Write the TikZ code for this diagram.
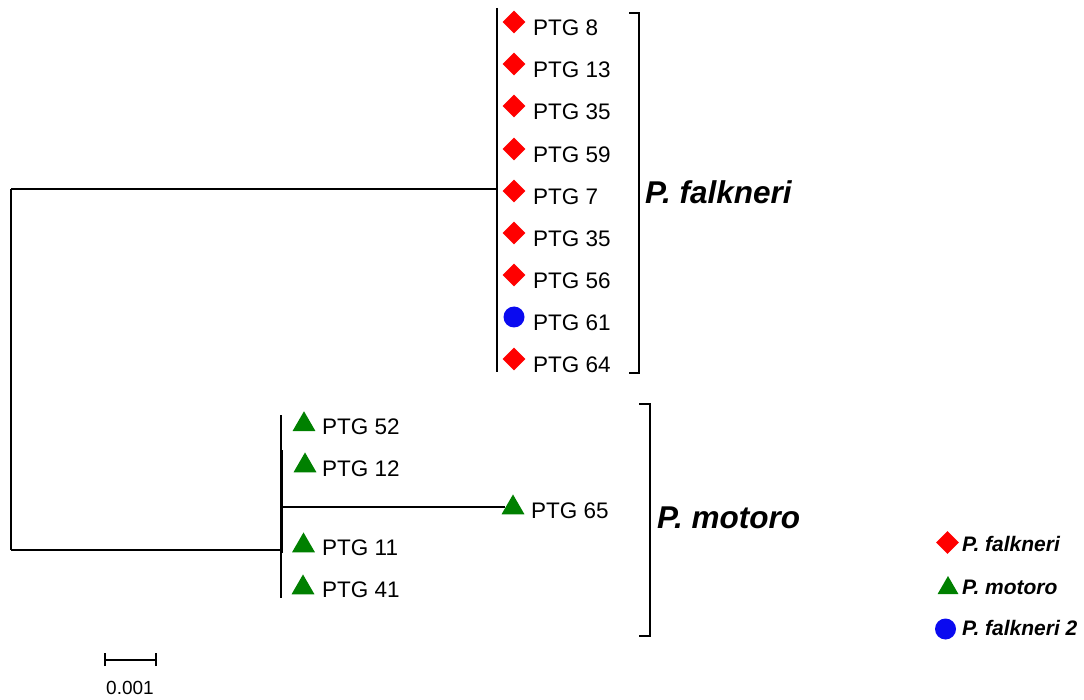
\documentclass[tikz,border=0pt]{standalone}
\usepackage{fontspec}
\setmainfont{Liberation Sans}
\usetikzlibrary{shapes.geometric}
\definecolor{mred}{RGB}{255,0,0}
\definecolor{mgreen}{RGB}{0,128,0}
\definecolor{mblue}{RGB}{10,10,240}
\begin{document}
\begin{tikzpicture}[x=1pt,y=-1pt,
  branch/.style={line width=2.2pt},
  brack/.style={line width=2.6pt},
  fmark/.style={diamond,fill=mred,inner sep=0pt,minimum size=23pt},
  mmark/.style={regular polygon,regular polygon sides=3,fill=mgreen,inner sep=0pt,minimum size=26.5pt},
  bmark/.style={circle,fill=mblue,inner sep=0pt,minimum size=21pt},
  leaf/.style={anchor=west,inner sep=0pt,font=\fontsize{22.5}{22.5}\selectfont},
  species/.style={anchor=west,inner sep=0pt,font=\fontsize{31.5}{31.5}\selectfont\bfseries\itshape},
  legtext/.style={anchor=west,inner sep=0pt,font=\fontsize{21}{21}\selectfont\bfseries\itshape}]
\useasboundingbox (0,0) rectangle (1084,700);
% tree internal coordinates
\coordinate (rt) at (11,189);
\coordinate (rb) at (11,550);
\coordinate (ft) at (497,8);
\coordinate (fm) at (497,189);
\coordinate (fb) at (497,372);
\coordinate (mt) at (281,415);
\coordinate (mm) at (281,507);
\coordinate (mb) at (281,598);
\coordinate (mr) at (281,550);
\draw[branch] (rt) -- (rb);
\draw[branch] (rt) -- (fm);
\draw[branch] (rb) -- (mr);
\draw[branch] (ft) -- (fb);
\draw[branch] (mt) -- (mb);
\draw[line width=1.2pt] (282,450) -- (282,553);
% P. falkneri leaves
\foreach \n/\lab/\ym/\yt in {f1/8/22/28, f2/13/64/70, f3/35/106/112, f4/59/149/155, f5/7/191/197, f6/35/233/239, f7/56/275/281, f9/64/359/365}{
  \node[fmark] (\n m) at (514,\ym) {};
  \node[leaf] (\n t) at (533,\yt) {PTG \lab};
}
\node[bmark] (f8m) at (514,317) {};
\node[leaf] (f8t) at (533,323) {PTG 61};
% P. motoro leaves
\foreach \n/\lab/\xm/\ym/\yt in {m1/52/304/424.5/427, m2/12/305/465.7/469, m3/11/303.5/545.7/548, m4/41/303/587.7/590}{
  \node[mmark] (\n m) at (\xm,\ym) {};
  \node[leaf] (\n t) at (322,\yt) {PTG \lab};
}
\node[mmark] (m5m) at (513,507.7) {};
\node[leaf] (m5t) at (531,511) {PTG 65};
\draw[line width=1.4pt] (mm) -- (m5m.west |- mm);
% brackets
\draw[brack] (629,13) -- (639,13) -- (639,373) -- (629,373);
\draw[brack] (639,404) -- (650,404) -- (650,636) -- (639,636);
\node[species] (fl) at (645,192) {P. falkneri};
\node[species] (ml) at (657,518) {P. motoro};
% legend
\node[fmark] (lf) at (947.5,542.5) {};
\node[legtext] (lft) at (962,544) {P. falkneri};
\node[mmark,minimum size=24pt] (lm) at (948,588) {};
\node[legtext] (lmt) at (962,587) {P. motoro};
\node[bmark] (lb) at (945.5,629) {};
\node[legtext] (lbt) at (962,628) {P. falkneri 2};
% scale bar
\coordinate (s1) at (105,660);
\coordinate (s2) at (156,660);
\draw[line width=2pt] (s1) -- (s2);
\draw[line width=2pt] ([yshift=-6pt]s1) -- ([yshift=7pt]s1);
\draw[line width=2pt] ([yshift=-6pt]s2) -- ([yshift=7pt]s2);
\node[inner sep=0pt,font=\fontsize{19}{19}\selectfont] (sl) at (130,688) {0.001};
\end{tikzpicture}
\end{document}
